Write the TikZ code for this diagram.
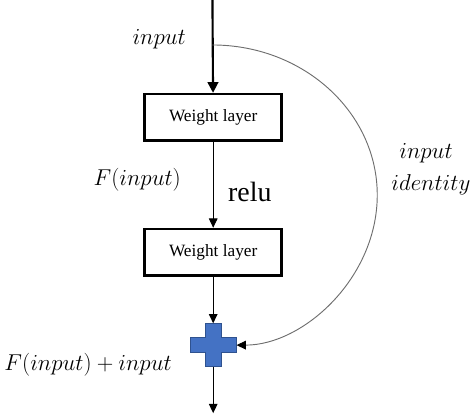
\documentclass[tikz,border=0pt]{standalone}
\usepackage{fontspec}
\setmainfont{Liberation Serif}
\usepackage{amsmath}
\usetikzlibrary{arrows.meta}

\definecolor{plusblue}{HTML}{4472C4}
\definecolor{plusedge}{HTML}{2F528F}
\definecolor{skipgray}{HTML}{6E6E6E}

\begin{document}
\begin{tikzpicture}[
        layer/.style={rectangle, draw, line width=2pt, minimum width=3.63cm, minimum height=1.22cm, font=\fontsize{13}{15}\selectfont},
        flow/.style={-{Triangle[width=6.5pt, length=7pt]}, line width=0.7pt},
        bigflow/.style={-{Triangle[width=8pt, length=8pt]}, line width=1.6pt},
        skip/.style={-{Triangle[width=6.5pt, length=7pt, color=black]}, draw=skipgray, line width=0.7pt},
        lbl/.style={font=\fontsize{16}{19}\selectfont}
    ]
        \useasboundingbox (0, 0) rectangle (12.46, -11.09);

        %nodes
        \coordinate (top) at (5.62, 0);
        \coordinate (split) at (5.62, -1.19);
        \node[layer] (w1) at (5.64, -3.10) {Weight layer};
        \node[layer] (w2) at (5.64, -6.67) {Weight layer};
        \node[minimum width=1.22cm, minimum height=1.14cm, inner sep=0pt] (plus) at (5.64, -9.13) {};
        \coordinate (out) at (5.64, -10.93);

        %plus sign
        \draw[fill=plusblue, draw=plusedge, line width=0.8pt, shift={(plus.center)}]
            (-0.21, 0.57) -- (0.21, 0.57) -- (0.21, 0.2) -- (0.61, 0.2) -- (0.61, -0.2) -- (0.21, -0.2)
            -- (0.21, -0.57) -- (-0.21, -0.57) -- (-0.21, -0.2) -- (-0.61, -0.2) -- (-0.61, 0.2) -- (-0.21, 0.2) -- cycle;

        %labels
        \node[lbl] (in) at (4.21, -1.03) {$input$};
        \node[lbl] (fx) at (3.63, -4.76) {$F(input)$};
        \node[font=\fontsize{21}{24}\selectfont] (relu) at (6.61, -5.08) {relu};
        \node[lbl] (idin) at (11.27, -4.05) {$input$};
        \node[lbl] (idid) at (11.40, -4.90) {$identity$};
        \node[lbl] (sum) at (2.33, -9.66) {$F(input) + input$};

        %edges
        \draw[bigflow] (top) -- (w1);
        \draw[flow] (w1) -- (w2);
        \draw[flow] (w2) -- (plus);
        \draw[flow] (plus) -- (out);
        \draw[skip] (split) .. controls (8.03, -1.19) and (9.98, -2.97) .. (9.98, -5.16)
            .. controls (9.98, -7.35) and (8.03, -9.13) .. (plus.east);
    \end{tikzpicture}
\end{document}
